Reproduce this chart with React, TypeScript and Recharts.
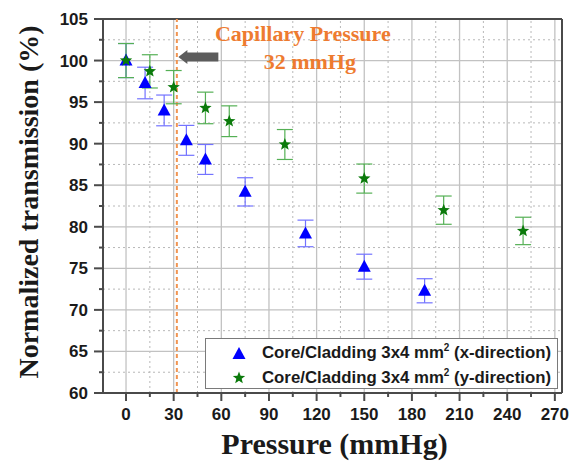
import React from "react";
import {
  ErrorBar,
  ReferenceLine,
  Scatter,
  ScatterChart,
  XAxis,
  YAxis,
} from "recharts";

// Values.
const xDirPressure = [0, 12, 24, 38, 50, 75, 113, 150, 188];
const xDirTransmission = [100, 97.3, 94.0, 90.4, 88.1, 84.2, 79.2, 75.2, 72.3];
const xDirError = [2.05, 1.9, 1.85, 1.8, 1.8, 1.7, 1.6, 1.5, 1.45];

const yDirPressure = [0, 15, 30, 50, 65, 100, 150, 200, 250];
const yDirTransmission = [100, 98.7, 96.8, 94.3, 92.7, 89.9, 85.8, 82.0, 79.5];
const yDirError = [2.05, 2.0, 2.0, 1.9, 1.85, 1.8, 1.75, 1.7, 1.65];

const X_MAJOR = [0, 30, 60, 90, 120, 150, 180, 210, 240, 270];
const X_MINOR = [15, 45, 75, 105, 135, 165, 195, 225, 255];
const Y_MAJOR = [60, 65, 70, 75, 80, 85, 90, 95, 100, 105];
const Y_MINOR = [62.5, 67.5, 72.5, 77.5, 82.5, 87.5, 92.5, 97.5, 102.5];

const X_DOMAIN: [number, number] = [-14.5, 274.5];
const Y_DOMAIN: [number, number] = [60, 105];
const CAPILLARY_PRESSURE = 32;

const COLORS = {
  blue: "#0000ff",
  blueErr: "#7373ff",
  green: "#0b7a0b",
  greenErr: "#55b055",
  orange: "#ee7b30",
  orangeLine: "#f19552",
  arrow: "#5c5c5c",
  frame: "#4a4a4a",
  grid: "#c2c2c2",
  gridMinor: "#b8b8b8",
  text: "#1a1a1a",
};

const SANS = "'Liberation Sans', Arial, sans-serif";
const SERIF = "'Liberation Serif', 'Times New Roman', serif";

const xDirData = xDirPressure.map((p, i) => ({
  p,
  t: xDirTransmission[i],
  err: xDirError[i],
}));
const yDirData = yDirPressure.map((p, i) => ({
  p,
  t: yDirTransmission[i],
  err: yDirError[i],
}));

function Triangle(props: any) {
  const { cx, cy } = props;
  if (cx == null || cy == null) return null;
  return (
    <polygon
      points={`${cx},${cy - 7} ${cx - 6.5},${cy + 5} ${cx + 6.5},${cy + 5}`}
      fill={COLORS.blue}
    />
  );
}

function Star(props: any) {
  const { cx, cy } = props;
  if (cx == null || cy == null) return null;
  const pts: string[] = [];
  for (let i = 0; i < 10; i++) {
    const r = i % 2 === 0 ? 6.5 : 2.8;
    const a = -Math.PI / 2 + (i * Math.PI) / 5;
    pts.push(`${cx + r * Math.cos(a)},${cy + r * Math.sin(a)}`);
  }
  return <polygon points={pts.join(" ")} fill={COLORS.green} />;
}

function XTick({ x, y, payload }: any) {
  const major = payload.value % 30 === 0;
  return (
    <g>
      <line x1={x} x2={x} y1={y} y2={y + (major ? 8 : 4)} stroke={COLORS.frame} strokeWidth={2} />
      {major && (
        <text
          x={x}
          y={y + 27}
          textAnchor="middle"
          fontFamily={SANS}
          fontWeight="bold"
          fontSize={17}
          fill={COLORS.text}
        >
          {payload.value}
        </text>
      )}
    </g>
  );
}

function YTick({ x, y, payload }: any) {
  const major = payload.value % 5 === 0;
  return (
    <g>
      <line x1={x} x2={x - (major ? 9 : 4)} y1={y} y2={y} stroke={COLORS.frame} strokeWidth={2} />
      {major && (
        <text
          x={x - 15}
          y={y + 6}
          textAnchor="end"
          fontFamily={SANS}
          fontWeight="bold"
          fontSize={17}
          fill={COLORS.text}
        >
          {payload.value}
        </text>
      )}
    </g>
  );
}

function YTitle({ viewBox }: any) {
  const cx = viewBox.x + 28;
  const cy = viewBox.y + viewBox.height / 2 - 4;
  return (
    <text
      x={cx}
      y={cy}
      transform={`rotate(-90 ${cx} ${cy})`}
      textAnchor="middle"
      dominantBaseline="central"
      fontFamily={SERIF}
      fontWeight="bold"
      fontSize={28}
      fill={COLORS.text}
    >
      Normalized transmission (%)
    </text>
  );
}

function XTitle({ viewBox }: any) {
  return (
    <text
      x={viewBox.x + viewBox.width / 2 + 2}
      y={viewBox.y + 61}
      textAnchor="middle"
      fontFamily={SERIF}
      fontWeight="bold"
      fontSize={30}
      fill={COLORS.text}
    >
      Pressure (mmHg)
    </text>
  );
}

/** Arrow + "Capillary Pressure / 32 mmHg" annotation hung off the dashed line. */
function CapillaryLabel({ viewBox }: any) {
  const lx = viewBox.x;
  const top = viewBox.y;
  const tip = lx + 1.5;
  const ay = top + 38;
  return (
    <g>
      <polygon
        points={`${tip},${ay} ${tip + 9},${ay - 7} ${tip + 9},${ay - 4.5} ${tip + 40},${ay - 4.5} ${tip + 40},${ay + 4.5} ${tip + 9},${ay + 4.5} ${tip + 9},${ay + 7}`}
        fill={COLORS.arrow}
      />
      <text
        x={lx + 126}
        y={top + 22}
        textAnchor="middle"
        fontFamily={SERIF}
        fontWeight="bold"
        fontSize={22}
        fill={COLORS.orange}
      >
        Capillary Pressure
      </text>
      <text
        x={lx + 133}
        y={top + 50}
        textAnchor="middle"
        fontFamily={SERIF}
        fontWeight="bold"
        fontSize={22}
        fill={COLORS.orange}
      >
        32 mmHg
      </text>
    </g>
  );
}

function LegendBox() {
  const row = (icon: React.ReactNode, dir: string) => (
    <div style={{ display: "flex", alignItems: "center", height: 25 }}>
      <svg width={56} height={20} style={{ flex: "none" }}>
        {icon}
      </svg>
      <span style={{ whiteSpace: "nowrap" }}>
        Core/Cladding 3x4 mm<sup style={{ fontSize: 10, verticalAlign: 7 }}>2</sup> ({dir})
      </span>
    </div>
  );
  return (
    <div
      style={{
        position: "absolute",
        left: 205,
        top: 338,
        width: 353,
        height: 51,
        boxSizing: "border-box",
        border: "1.5px solid #7a7a7a",
        background: "#fff",
        fontFamily: SANS,
        fontWeight: "bold",
        fontSize: 16.8,
        color: COLORS.text,
        paddingTop: 1,
      }}
    >
      {row(<Triangle cx={33} cy={11} />, "x-direction")}
      {row(<Star cx={33} cy={10} />, "y-direction")}
    </div>
  );
}

export default function App() {
  return (
    <div style={{ position: "absolute", left: 0, top: 0, width: 579, height: 466, background: "#fff" }}>
      <ScatterChart width={579} height={466} margin={{ top: 19, right: 17, bottom: 0, left: 0 }}>
        {/* grid: solid majors, dotted minors */}
        {X_MINOR.map((v) => (
          <ReferenceLine key={`xm${v}`} x={v} stroke={COLORS.gridMinor} strokeDasharray="2 3" />
        ))}
        {Y_MINOR.map((v) => (
          <ReferenceLine key={`ym${v}`} y={v} stroke={COLORS.gridMinor} strokeDasharray="2 3" />
        ))}
        {X_MAJOR.map((v) => (
          <ReferenceLine key={`xM${v}`} x={v} stroke={COLORS.grid} strokeWidth={1.3} />
        ))}
        {Y_MAJOR.slice(1, -1).map((v) => (
          <ReferenceLine key={`yM${v}`} y={v} stroke={COLORS.grid} strokeWidth={1.3} />
        ))}
        <XAxis
          type="number"
          dataKey="p"
          domain={X_DOMAIN}
          ticks={[...X_MAJOR, ...X_MINOR].sort((a, b) => a - b)}
          interval={0}
          allowDataOverflow
          height={73}
          tickSize={0}
          tickMargin={0}
          tickLine={false}
          tick={<XTick />}
          axisLine={{ stroke: COLORS.frame, strokeWidth: 2 }}
          label={<XTitle />}
        />
        <YAxis
          type="number"
          dataKey="t"
          domain={Y_DOMAIN}
          ticks={[...Y_MAJOR, ...Y_MINOR].sort((a, b) => a - b)}
          interval={0}
          allowDataOverflow
          width={103}
          tickSize={0}
          tickMargin={0}
          tickLine={false}
          tick={<YTick />}
          axisLine={{ stroke: COLORS.frame, strokeWidth: 2 }}
          label={<YTitle />}
        />
        <ReferenceLine y={105} stroke={COLORS.frame} strokeWidth={2} />
        <ReferenceLine x={X_DOMAIN[1]} stroke={COLORS.frame} strokeWidth={2} />
        <ReferenceLine
          x={CAPILLARY_PRESSURE}
          stroke={COLORS.orangeLine}
          strokeWidth={2}
          strokeDasharray="4 3"
          label={<CapillaryLabel />}
        />
        <Scatter
          name="x-direction"
          data={xDirData}
          shape={<Triangle />}
          isAnimationActive={false}
        >
          <ErrorBar dataKey="err" direction="y" width={8} stroke={COLORS.blueErr} strokeWidth={1.2} />
        </Scatter>
        <Scatter
          name="y-direction"
          data={yDirData}
          shape={<Star />}
          isAnimationActive={false}
        >
          <ErrorBar dataKey="err" direction="y" width={8} stroke={COLORS.greenErr} strokeWidth={1.2} />
        </Scatter>
      </ScatterChart>
      <LegendBox />
    </div>
  );
}
